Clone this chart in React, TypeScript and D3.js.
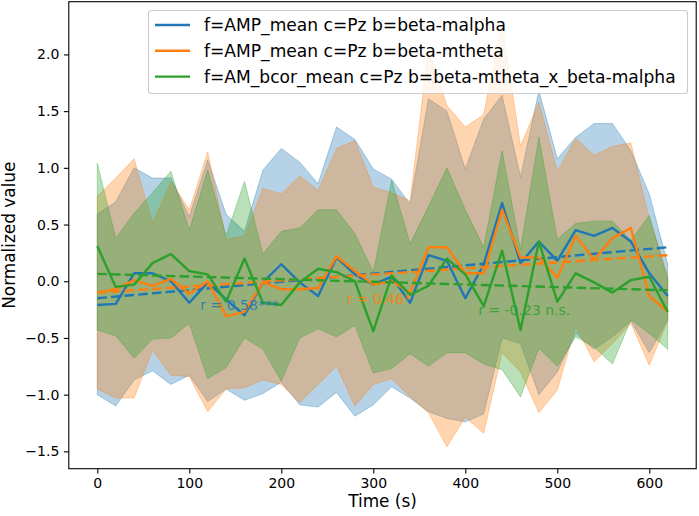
import React, { useRef, useEffect } from "react";
import * as d3 from "d3";

// time axis (s)
const times = [0, 20, 40, 60, 80, 100, 120, 140, 160, 180, 200, 220, 240, 260, 280, 300,
  320, 340, 360, 380, 400, 420, 440, 460, 480, 500, 520, 540, 560, 580, 600, 620];

// f=AMP_mean c=Pz b=beta-malpha
const malphaMean = [-0.21, -0.20, 0.07, 0.07, 0.00, -0.19, -0.01, -0.16, -0.30, -0.01, 0.15, -0.01, -0.13, 0.21, 0.06, -0.03,
  0.04, -0.19, 0.23, 0.18, -0.15, 0.15, 0.69, 0.16, 0.35, 0.18, 0.45, 0.40, 0.47, 0.35, 0.07, -0.13];
const malphaHigh = [0.59, 0.70, 1.00, 0.91, 0.91, 0.57, 1.07, 0.59, 0.44, 0.98, 1.17, 1.05, 0.86, 1.36, 1.25, 0.99,
  0.90, 0.68, 1.61, 1.50, 0.99, 1.43, 1.64, 0.92, 1.68, 1.08, 1.27, 1.39, 1.39, 1.15, 0.77, 0.15];
const malphaLow = [-1.00, -1.10, -0.87, -0.79, -0.91, -0.83, -1.06, -0.95, -1.05, -0.99, -0.89, -1.09, -1.11, -0.98, -1.19, -1.09,
  -0.93, -1.03, -1.15, -1.21, -1.24, -1.17, -0.50, -0.55, -1.00, -0.80, -0.46, -0.60, -0.49, -0.35, -0.63, -0.34];

// f=AMP_mean c=Pz b=beta-mtheta
const mthetaMean = [-0.10, -0.07, 0.01, -0.04, 0.02, -0.11, 0.00, -0.31, -0.27, -0.01, -0.07, -0.07, -0.06, 0.22, 0.09, -0.03,
  0.00, -0.10, 0.30, 0.30, 0.07, 0.07, 0.63, 0.21, 0.21, 0.03, 0.40, 0.19, 0.38, 0.47, -0.13, -0.27];
const mthetaHigh = [0.75, 0.91, 1.08, 0.51, 0.88, 0.63, 1.14, 0.37, 0.40, 0.82, 0.77, 0.93, 0.80, 1.17, 1.24, 0.83,
  0.78, 0.71, 2.05, 1.55, 1.36, 1.47, 2.28, 1.19, 1.58, 0.97, 1.26, 1.11, 1.19, 1.22, 0.55, 0.05];
const mthetaLow = [-0.95, -1.03, -1.03, -0.61, -0.83, -0.84, -1.15, -0.95, -0.94, -0.87, -0.91, -1.07, -0.91, -0.75, -1.10, -0.91,
  -0.86, -1.02, -1.16, -1.46, -1.20, -1.34, -0.63, -0.80, -1.16, -0.96, -0.40, -0.71, -0.55, -0.37, -0.74, -0.35];

// f=AM_bcor_mean c=Pz b=beta-mtheta_x_beta-malpha
const bcorMean = [0.31, -0.05, -0.03, 0.16, 0.24, 0.09, 0.06, -0.18, 0.20, -0.19, -0.21, -0.01, 0.11, 0.08, 0.00, -0.44,
  0.05, -0.12, -0.04, 0.20, 0.06, -0.22, 0.27, -0.43, 0.35, -0.18, 0.07, -0.01, -0.10, 0.01, 0.04, -0.27];
const bcorHigh = [1.04, 0.38, 0.60, 0.78, 0.97, 0.45, 0.98, 0.40, 0.88, 0.24, 0.44, 0.47, 0.63, 0.63, 0.42, 0.08,
  0.89, 0.33, 0.66, 1.00, 0.63, 0.30, 1.15, 0.28, 1.27, 0.37, 0.51, 0.53, 0.53, 0.36, 0.58, 0.02];
const bcorLow = [-0.43, -0.48, -0.68, -0.51, -0.50, -0.37, -0.86, -0.76, -0.50, -0.60, -0.88, -0.50, -0.42, -0.49, -0.39, -0.81,
  -0.77, -0.64, -0.75, -0.63, -0.63, -0.73, -0.78, -1.02, -0.59, -0.75, -0.49, -0.58, -0.73, -0.34, -0.46, -0.60];

// dashed linear fits: value at first and last time
const fitStart = [-0.15, -0.10, 0.065];
const fitEnd = [0.30, 0.23, -0.08];

const labels = [
  "f=AMP_mean c=Pz b=beta-malpha",
  "f=AMP_mean c=Pz b=beta-mtheta",
  "f=AM_bcor_mean c=Pz b=beta-mtheta_x_beta-malpha",
];
const colors = ["#1f77b4", "#ff7f0e", "#2ca02c"];

// correlation notes, anchored in data coords
const rTexts = ["r = 0.58***", "r = 0.46*", "r = -0.23 n.s."];
const rTimes = [112, 271, 414];
const rValues = [-0.21, -0.16, -0.25];

const xTicks = [0, 100, 200, 300, 400, 500, 600];
const yTicks = [-1.5, -1.0, -0.5, 0.0, 0.5, 1.0, 1.5, 2.0];

const W = 699, H = 516;
const plot = { left: 68.8, right: 696.2, top: 1.7, bottom: 468.7 };
const FONT = "DejaVu Sans, sans-serif";
const LW = 2.4;

export default function App() {
  const ref = useRef<SVGSVGElement>(null);

  useEffect(() => {
    const svg = d3.select(ref.current);
    svg.selectAll("*").remove();

    const x = d3.scaleLinear().domain([-31, 651]).range([plot.left, plot.right]);
    const y = d3.scaleLinear().domain([-1.653, 2.465]).range([plot.bottom, plot.top]);

    svg.append("rect").attr("width", W).attr("height", H).attr("fill", "white");

    svg.append("clipPath").attr("id", "plotclip")
      .append("rect")
      .attr("x", plot.left).attr("y", plot.top)
      .attr("width", plot.right - plot.left).attr("height", plot.bottom - plot.top);

    const g = svg.append("g").attr("clip-path", "url(#plotclip)");

    const series = [
      { mean: malphaMean, hi: malphaHigh, lo: malphaLow },
      { mean: mthetaMean, hi: mthetaHigh, lo: mthetaLow },
      { mean: bcorMean, hi: bcorHigh, lo: bcorLow },
    ];

    // bands first (collections sit under lines)
    series.forEach((s, i) => {
      const area = d3.area<number>()
        .x((_, j) => x(times[j]))
        .y0((_, j) => y(s.lo[j]))
        .y1((_, j) => y(s.hi[j]));
      g.append("path")
        .attr("d", area(times))
        .attr("fill", colors[i]).attr("fill-opacity", 0.33)
        .attr("stroke", colors[i]).attr("stroke-opacity", 0.33)
        .attr("stroke-width", 1);
    });

    series.forEach((s, i) => {
      const line = d3.line<number>()
        .x((_, j) => x(times[j]))
        .y((d) => y(d));
      g.append("path")
        .attr("d", line(s.mean))
        .attr("fill", "none").attr("stroke", colors[i])
        .attr("stroke-width", LW).attr("stroke-linejoin", "round");

      const t0 = times[0], t1 = times[times.length - 1];
      g.append("line")
        .attr("x1", x(t0)).attr("y1", y(fitStart[i]))
        .attr("x2", x(t1)).attr("y2", y(fitEnd[i]))
        .attr("stroke", colors[i]).attr("stroke-width", LW)
        .attr("stroke-dasharray", "9.5,4.2");
    });

    rTexts.forEach((t, i) => {
      g.append("text")
        .attr("x", x(rTimes[i])).attr("y", y(rValues[i]))
        .attr("dy", "0.36em")
        .attr("fill", colors[i]).attr("fill-opacity", 0.85)
        .style("font-family", FONT).style("font-size", "14px")
        .text(t);
    });

    // axes
    const fmtY = (d: number) => d3.format(".1f")(d).replace("-", "\u2212");
    const xAxis = svg.append("g")
      .attr("transform", `translate(0,${plot.bottom})`)
      .call(d3.axisBottom(x).tickValues(xTicks).tickSize(4.9).tickPadding(4.6).tickFormat((d) => String(d)));
    const yAxis = svg.append("g")
      .attr("transform", `translate(${plot.left},0)`)
      .call(d3.axisLeft(y).tickValues(yTicks).tickSize(4.9).tickPadding(4.6).tickFormat((d) => fmtY(d as number)));
    [xAxis, yAxis].forEach((ax) => {
      ax.select(".domain").remove();
      ax.selectAll("line").attr("stroke", "black").attr("stroke-width", 1.1);
      ax.selectAll("text").attr("fill", "black")
        .style("font-family", FONT).style("font-size", "14px");
    });

    svg.append("rect")
      .attr("x", plot.left).attr("y", plot.top)
      .attr("width", plot.right - plot.left).attr("height", plot.bottom - plot.top)
      .attr("fill", "none").attr("stroke", "black").attr("stroke-width", 1.1);

    svg.append("text")
      .attr("x", (plot.left + plot.right) / 2).attr("y", 507)
      .attr("text-anchor", "middle")
      .style("font-family", FONT).style("font-size", "16.9px")
      .text("Time (s)");

    svg.append("text")
      .attr("transform", `translate(15,${(plot.top + plot.bottom) / 2}) rotate(-90)`)
      .attr("text-anchor", "middle")
      .style("font-family", FONT).style("font-size", "16.9px")
      .text("Normalized value");

    // legend
    const leg = svg.append("g");
    leg.append("rect")
      .attr("x", 148.5).attr("y", 10.5).attr("width", 539).attr("height", 83)
      .attr("rx", 3).attr("fill", "white").attr("fill-opacity", 0.8)
      .attr("stroke", "#cccccc").attr("stroke-width", 1.1);
    const rowY = d3.scaleLinear().domain([0, 1]).range([25, 50.8]);
    labels.forEach((lab, i) => {
      leg.append("line")
        .attr("x1", 155).attr("x2", 190)
        .attr("y1", rowY(i)).attr("y2", rowY(i))
        .attr("stroke", colors[i]).attr("stroke-width", LW);
      leg.append("text")
        .attr("x", 204).attr("y", rowY(i)).attr("dy", "0.36em")
        .style("font-family", FONT).style("font-size", "17.1px")
        .text(lab);
    });
  }, []);

  return (
    <div style={{ position: "absolute", left: 0, top: 0 }}>
      <svg ref={ref} width={W} height={H} />
    </div>
  );
}
